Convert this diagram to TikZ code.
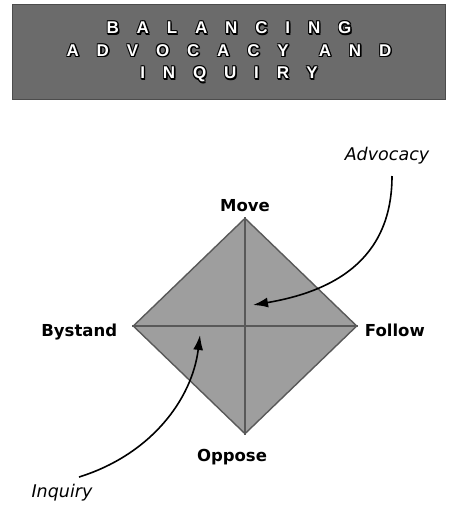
\documentclass[tikz,border=0pt]{standalone}
\usepackage{fontspec}
\setmainfont{DejaVu Sans}
\newfontfamily\titlefont[LetterSpace=105]{Liberation Sans}
\usetikzlibrary{arrows.meta, positioning, shapes.geometric}

\begin{document}
\begin{tikzpicture}[
    x=1pt, y=-1pt,
    >={Latex[length=15pt, width=10pt]},
    banner/.style={fill=black!58, draw=black!70, line width=1pt},
    title/.style ={font=\titlefont\bfseries\fontsize{17}{22.5}\selectfont,
                   align=center, inner sep=0pt},
    quad/.style  ={draw=black!65, fill=black!38, line width=1.4pt, diamond,
                   minimum width=224pt, minimum height=216pt, inner sep=0pt},
    split/.style ={draw=black!65, line width=1.4pt},
    lbl/.style   ={font=\bfseries\fontsize{16.5}{19}\selectfont, inner sep=1pt},
    side/.style  ={font=\itshape\fontsize{17.5}{20}\selectfont, inner sep=1pt},
    curl/.style  ={->, line width=1.6pt},
]
\useasboundingbox (0,0) rectangle (453,515);
% heading, white letters with a dark halo
\node[banner, minimum width=433pt, minimum height=95pt] (head) at (229,52) {};
\foreach \dx/\dy in {1.4/1.4, -0.8/0.8, 0.8/-0.8, -0.8/-0.8, 1.4/0, 0/1.4}
  \node[title, black] at ([shift={(\dx,\dy)}]head.center)
        {BALANCING\\ADVOCACY\hspace{30pt}AND\\INQUIRY};
\node[title, white] (htext) at (head.center)
      {BALANCING\\ADVOCACY\hspace{30pt}AND\\INQUIRY};
% the four stances
\node[quad] (dia) at (245,326) {};
\draw[split] (dia.north) -- (dia.south);
\draw[split] (dia.west) -- (dia.east);
\node[lbl, above=4pt of dia.north] (move)   {Move};
\node[lbl, left=14pt of dia.west, yshift=-6pt] (bystand) {Bystand};
\node[lbl, right=6pt of dia.east, yshift=-4pt] (follow) {Follow};
\node[lbl, below=13pt of dia.south, xshift=-13pt] (oppose) {Oppose};
% advocacy and inquiry
\node[side] (adv) at (387,156) {Advocacy};
\node[side] (inq) at (62,493) {Inquiry};
\coordinate (advfoot) at (392,176);
\coordinate (inqfoot) at (79,477);
\coordinate (advtip) at (253,305);
\coordinate (inqtip) at (200,335);
\draw[curl] (advfoot) .. controls (392,262) and (330,292) .. (advtip);
\draw[curl] (inqfoot) .. controls (150,455) and (192,400) .. (inqtip);
\end{tikzpicture}
\end{document}
